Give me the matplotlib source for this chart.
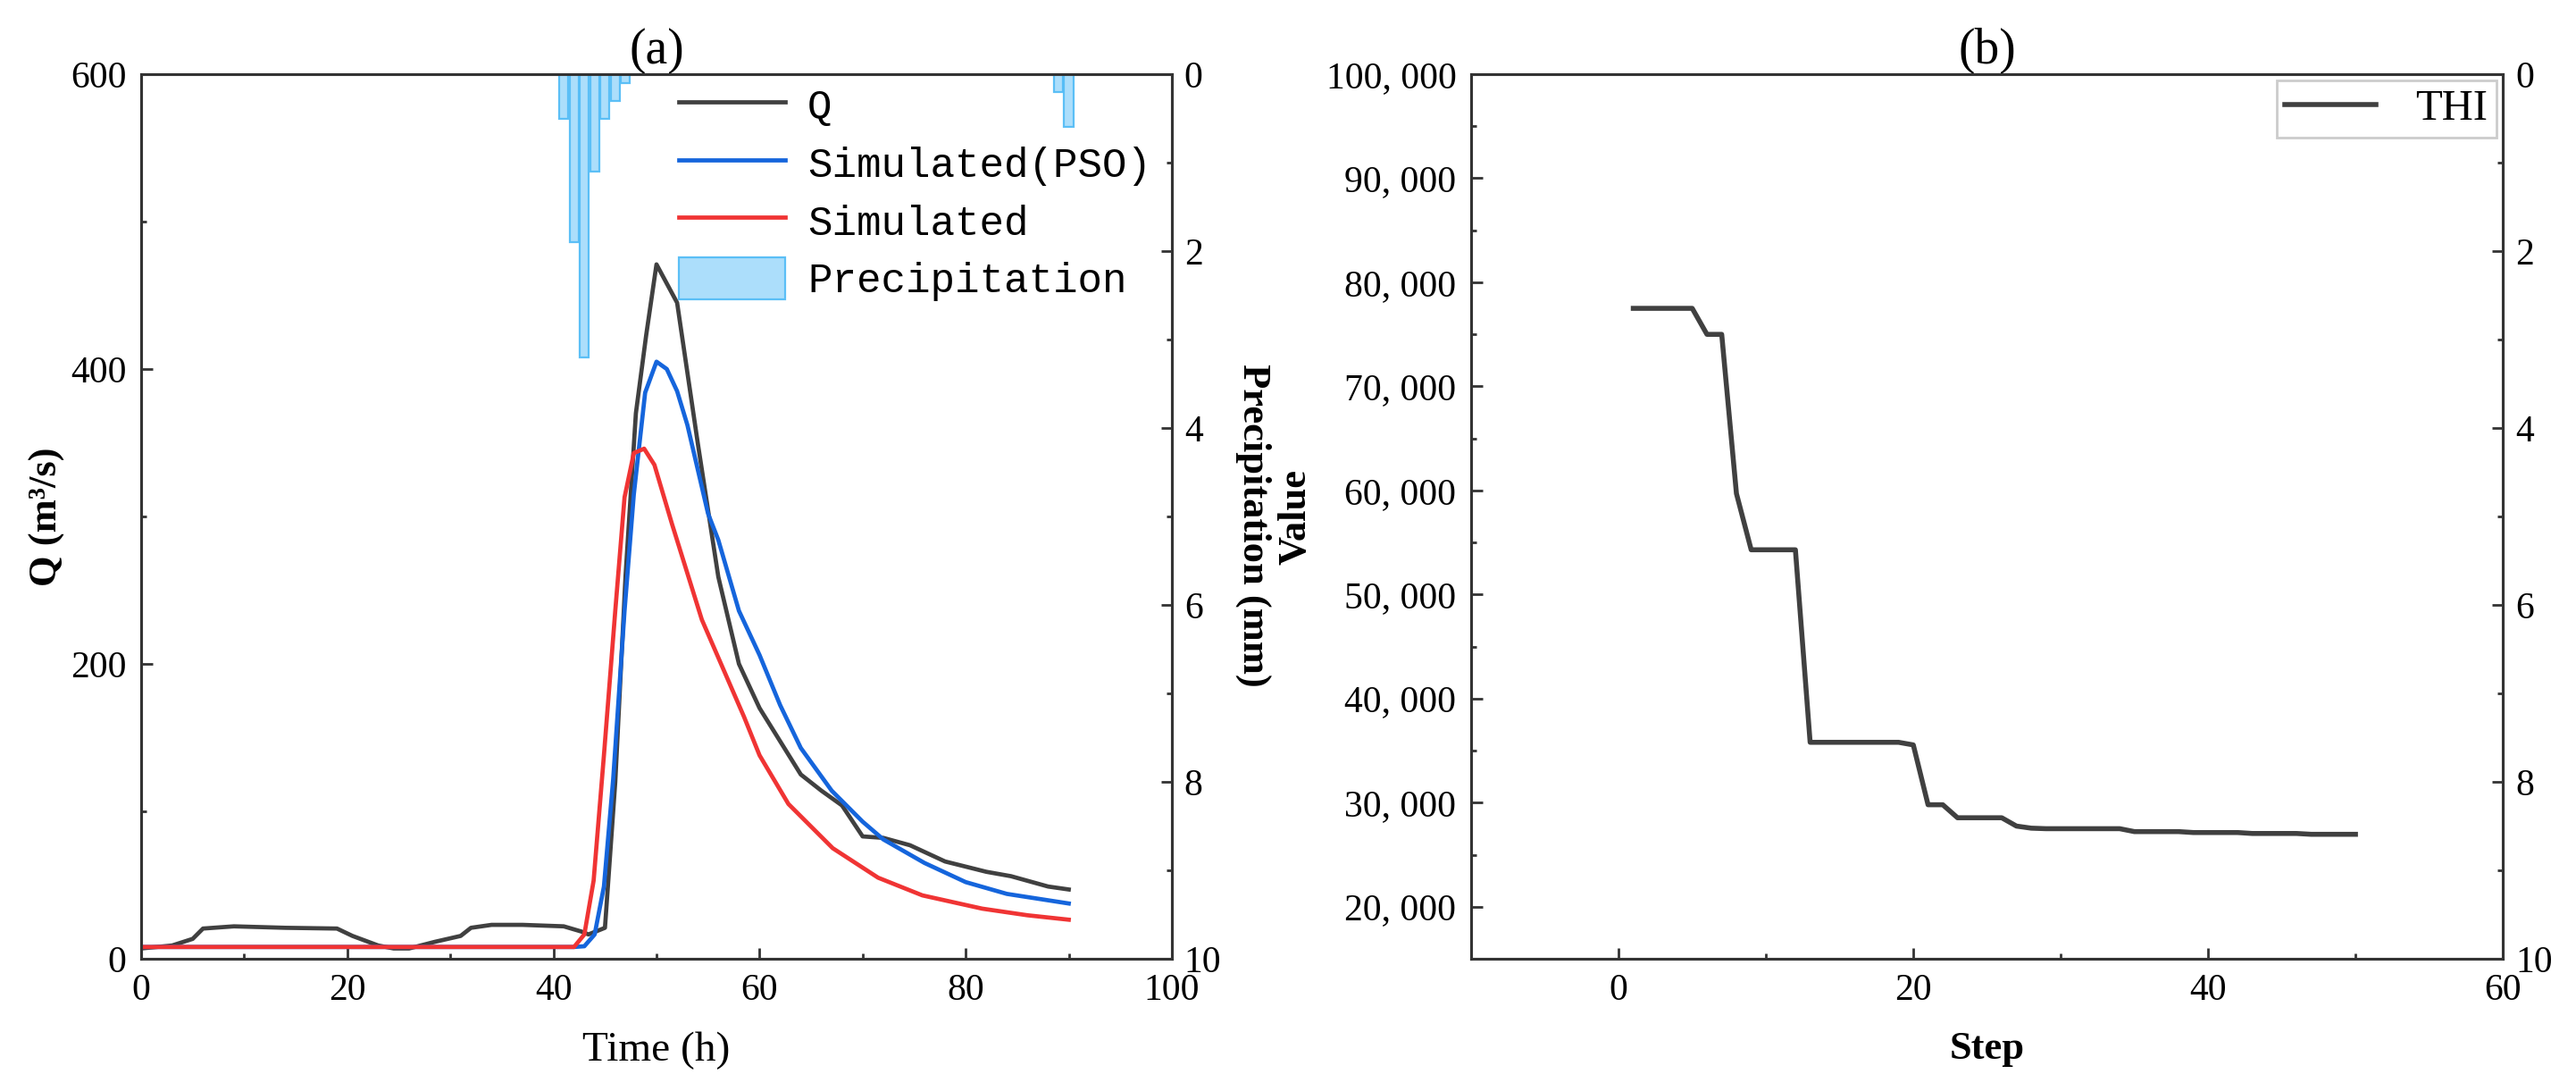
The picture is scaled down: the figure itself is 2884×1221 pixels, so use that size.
import matplotlib
matplotlib.use("Agg")
import matplotlib.pyplot as plt
from matplotlib.ticker import MultipleLocator, FuncFormatter

plt.rcParams['font.family'] = ['Liberation Serif', 'DejaVu Serif']
plt.rcParams['mathtext.fontset'] = 'stix'

# --- panel (a) data: discharge hydrographs and rainfall ---
obs_t = [0, 3, 5, 6, 9, 14, 19, 20.5, 23, 24.5, 26, 28.5, 31, 32, 34, 37, 41, 42.7, 43.4, 45,
         46, 47, 48, 49, 50, 52, 54, 56, 58, 60, 64, 66, 68, 70, 72, 74.6, 78, 82, 84.4, 88, 90]
obs_q = [7, 9, 13.5, 20.5, 22, 21, 20.5, 15.5, 9, 7, 7, 11.5, 15.5, 21, 23, 23, 22, 18.5, 16.5, 21,
         120, 260, 370, 423, 471, 445, 350, 259, 200, 170, 125, 114, 104, 83, 82, 77, 66, 59, 56, 49, 47]

pso_t = [0, 42, 43, 44, 44.9, 45.8, 46.9, 47.8, 48.9, 50, 51, 52, 53, 55, 56, 58, 60, 62, 64,
         67, 70, 72, 76, 80, 84, 90]
pso_q = [8, 8, 8.5, 16.5, 49, 122, 236, 315, 384, 405, 400, 385, 362, 302, 284, 236, 206, 172, 143,
         114, 93, 81, 65, 52, 44, 37.5]

sim_t = [0, 42, 43, 43.9, 44.9, 46, 46.9, 47.8, 48.8, 49.8, 51.5, 54.4, 58.5, 60, 62.8, 67.1,
         71.5, 75.8, 81.6, 86, 90]
sim_q = [8, 8, 16.5, 53, 138, 236, 313, 343, 346, 335, 295, 230, 164, 138, 105, 75,
         55, 43, 34, 29.5, 26.5]

rain_t = [41, 42, 43, 44, 45, 46, 47, 89, 90]
rain_mm = [0.5, 1.9, 3.2, 1.1, 0.5, 0.3, 0.1, 0.2, 0.6]

# --- panel (b) data: THI over optimisation steps ---
steps = list(range(1, 51))
thi = ([77500] * 5 + [75000] * 2 + [59700] + [54300] * 4 + [35800] * 7 + [35550]
       + [29800] * 2 + [28550] * 4 + [27750, 27550] + [27500] * 6 + [27220] * 4
       + [27130] * 4 + [27040] * 4 + [26960] * 4)

c_obs = '#404040'
c_pso = '#1565dc'
c_sim = '#f03434'
c_rain = '#a8ddfb'
c_rain_edge = '#55bdf6'
c_spine = '#333333'

fig = plt.figure(figsize=(14.42, 6.105), dpi=200)
ax1 = fig.add_axes([0.0548, 0.1212, 0.4001, 0.8108])
axb = fig.add_axes([0.5711, 0.1212, 0.4005, 0.8108])


def style(ax):
    for s in ax.spines.values():
        s.set_linewidth(1.1)
        s.set_color(c_spine)
    ax.tick_params(which='both', direction='in', colors=c_spine, labelcolor='black',
                   labelsize=15, top=False, width=1.0)
    ax.tick_params(which='major', length=4.5, pad=6)
    ax.tick_params(which='minor', length=2.3)


# (a) discharge
ax1.plot(obs_t, obs_q, color=c_obs, lw=1.7, label='Q', zorder=3)
ax1.plot(pso_t, pso_q, color=c_pso, lw=1.7, label='Simulated(PSO)', zorder=3)
ax1.plot(sim_t, sim_q, color=c_sim, lw=1.7, label='Simulated', zorder=3)
ax1.set_xlim(0, 100)
ax1.set_ylim(0, 600)
ax1.xaxis.set_major_locator(MultipleLocator(20))
ax1.xaxis.set_minor_locator(MultipleLocator(10))
ax1.yaxis.set_major_locator(MultipleLocator(200))
ax1.yaxis.set_minor_locator(MultipleLocator(100))
style(ax1)
ax1.tick_params(right=False)
ax1.set_xlabel('Time (h)', fontsize=17)
ax1.xaxis.set_label_coords(0.5, -0.082)
ax1.set_ylabel('Q (m³/s)', fontsize=16, fontweight='bold')
ax1.yaxis.set_label_coords(-0.074, 0.5)
ax1.set_title('(a)', fontsize=20, pad=3)

ax2 = ax1.twinx()
ax2.bar(rain_t, rain_mm, width=0.88, color=c_rain, edgecolor=c_rain_edge, lw=0.8,
        alpha=0.95, label='Precipitation', zorder=2)
ax2.set_ylim(10, 0)
ax2.yaxis.set_major_locator(MultipleLocator(2))
ax2.yaxis.set_minor_locator(MultipleLocator(1))
style(ax2)
ax2.tick_params(left=False)
ax2.tick_params(axis='y', pad=5)
ax2.set_ylabel('Precipitation (mm)', fontsize=16, fontweight='bold', rotation=270)
ax2.yaxis.set_label_coords(1.097, 0.49)

h1, l1 = ax1.get_legend_handles_labels()
h2, l2 = ax2.get_legend_handles_labels()
ax2.legend(h1 + h2, l1 + l2, loc='upper right', bbox_to_anchor=(0.99, 1.0),
           frameon=False, prop={'family': 'Liberation Mono', 'size': 16.5},
           handlelength=2.6, handleheight=1.2, labelspacing=0.34,
           handletextpad=0.55, borderaxespad=0.05, borderpad=0.2)

# (b) THI
axb.plot(steps, thi, color=c_obs, lw=2.0, label='THI')
axb.set_xlim(-10, 60)
axb.set_ylim(15000, 100000)
axb.xaxis.set_major_locator(MultipleLocator(20))
axb.xaxis.set_minor_locator(MultipleLocator(10))
axb.yaxis.set_major_locator(MultipleLocator(10000))
axb.yaxis.set_minor_locator(MultipleLocator(5000))
axb.yaxis.set_major_formatter(FuncFormatter(lambda v, p: f'{int(v):,}'.replace(',', ', ')))
style(axb)
axb.tick_params(right=False)
axb.set_xlabel('Step', fontsize=16, fontweight='bold')
axb.xaxis.set_label_coords(0.5, -0.082)
axb.set_ylabel('Value', fontsize=16, fontweight='bold')
axb.yaxis.set_label_coords(-0.153, 0.5)
axb.set_title('(b)', fontsize=20, pad=3)
axb.legend(loc='upper right', fancybox=False, edgecolor='#cccccc', framealpha=1,
           prop={'size': 17.5}, handlelength=2.1, borderaxespad=0.15,
           borderpad=0.2, handletextpad=0.9)

axb2 = axb.twinx()
axb2.set_ylim(10, 0)
axb2.yaxis.set_major_locator(MultipleLocator(2))
axb2.yaxis.set_minor_locator(MultipleLocator(1))
style(axb2)
axb2.tick_params(left=False)
axb2.tick_params(axis='y', pad=5)

fig.savefig('out.png', dpi=200)
